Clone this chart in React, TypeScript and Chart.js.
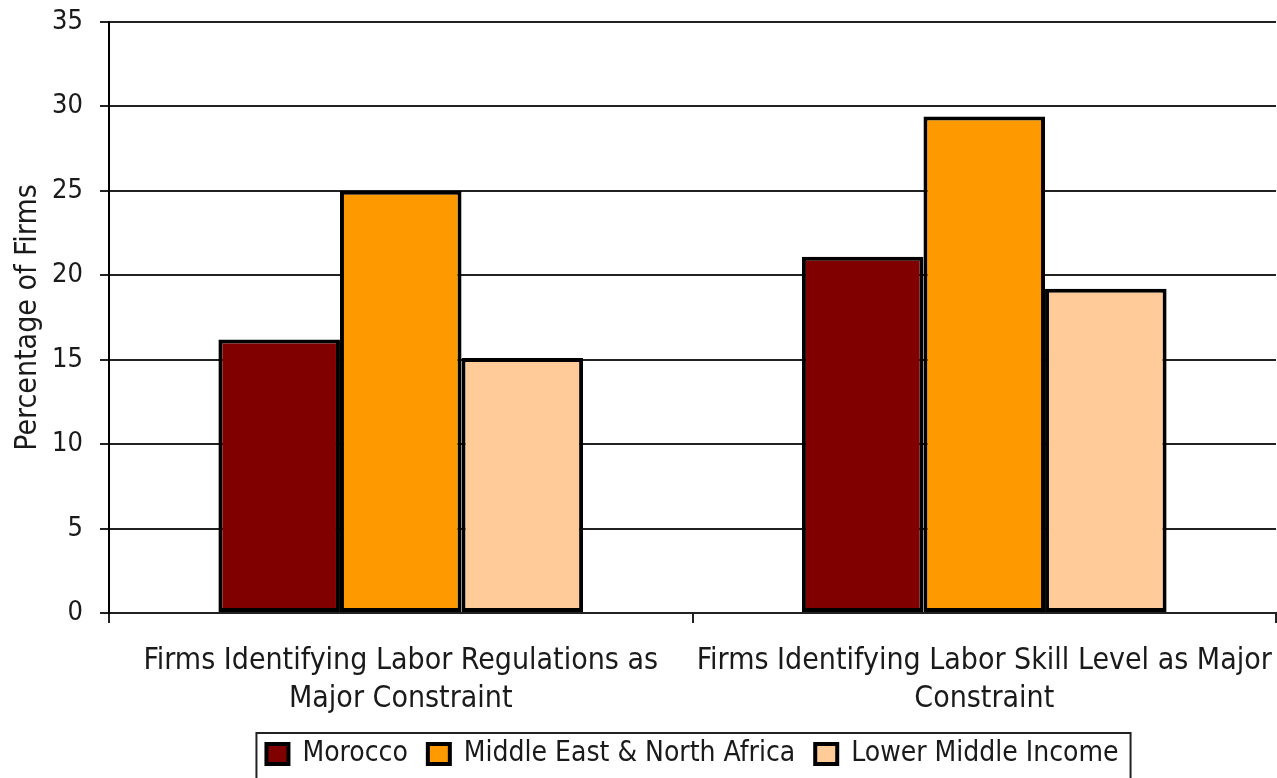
import React, { useEffect, useRef } from "react";
import { Chart, registerables } from "chart.js";

Chart.register(...registerables);

const categories: string[][] = [
  ["Firms Identifying Labor Regulations as", "Major Constraint"],
  ["Firms Identifying Labor Skill Level as Major", "Constraint"],
];
const morocco = [16.2, 21.1];
const mena = [25.0, 29.4];
const lowerMiddle = [15.1, 19.2];
const seriesNames = ["Morocco", "Middle East & North Africa", "Lower Middle Income"];
const seriesColors = ["#800000", "#FF9900", "#FFCC99"];
const yTitle = "Percentage of Firms";

const FONT = "'DejaVu Sans Condensed', 'DejaVu Sans', sans-serif";
const TEXT = "#1a1a1a";
const LINE = "#222222";

const legendFrame = {
  id: "legendFrame",
  afterDraw(chart: any) {
    const lg = chart.legend;
    if (!lg || !lg.legendHitBoxes || !lg.legendHitBoxes.length) return;
    const hb = lg.legendHitBoxes;
    const last = hb[hb.length - 1];
    const left = hb[0].left - 10;
    const right = last.left + last.width + 12;
    const top = lg.top + 13;
    const ctx = chart.ctx;
    ctx.save();
    ctx.strokeStyle = "#222";
    ctx.lineWidth = 2;
    ctx.strokeRect(left, top, right - left, chart.height - top + 10);
    ctx.restore();
  },
};

export default function App() {
  const ref = useRef<HTMLCanvasElement | null>(null);
  useEffect(() => {
    if (!ref.current) return;
    const data = [morocco, mena, lowerMiddle];
    const chart = new Chart(ref.current, {
      type: "bar",
      data: {
        labels: categories,
        datasets: seriesNames.map((name, i) => ({
          label: name,
          data: data[i],
          backgroundColor: seriesColors[i],
          borderColor: "#000",
          borderWidth: 4,
          borderSkipped: false,
          categoryPercentage: 0.625,
          barPercentage: 1,
        })),
      },
      options: {
        animation: false,
        responsive: true,
        maintainAspectRatio: false,
        layout: { padding: { left: 0, top: 22, right: 1, bottom: 0 } },
        plugins: {
          tooltip: { enabled: false },
          legend: {
            position: "bottom",
            fullSize: false,
            labels: {
              font: { family: FONT, size: 28 },
              color: TEXT,
              boxWidth: 22,
              boxHeight: 20,
              padding: 20,
            },
          },
        },
        scales: {
          x: {
            afterFit: (s: any) => {
              s.height = 107;
              s.paddingLeft = 0;
              s.paddingRight = 0;
            },
            grid: {
              display: true,
              offset: true,
              drawOnChartArea: false,
              drawTicks: true,
              tickLength: 10,
              color: LINE,
              lineWidth: 2,
            },
            border: { display: true, color: LINE, width: 2 },
            ticks: {
              font: { family: FONT, size: 30, lineHeight: 1.24 },
              color: TEXT,
              padding: 20,
              maxRotation: 0,
              autoSkip: false,
            },
          },
          y: {
            min: 0,
            max: 35,
            afterFit: (s: any) => {
              s.width = 109;
              s.paddingTop = 0;
              s.paddingBottom = 0;
            },
            grid: {
              color: LINE,
              lineWidth: 2,
              tickLength: 9,
            },
            border: { display: true, color: "#000", width: 2 },
            ticks: {
              stepSize: 5,
              font: { family: FONT, size: 27 },
              color: TEXT,
              padding: 17,
            },
            title: {
              display: true,
              text: yTitle,
              font: { family: FONT, size: 30 },
              color: TEXT,
              padding: { top: 10, bottom: 0 },
            },
          },
        },
      },
      plugins: [legendFrame],
    });
    return () => chart.destroy();
  }, []);
  return (
    <div style={{ position: "fixed", left: 0, top: 0, width: 1277, height: 778, background: "#fff" }}>
      <canvas ref={ref} />
    </div>
  );
}
